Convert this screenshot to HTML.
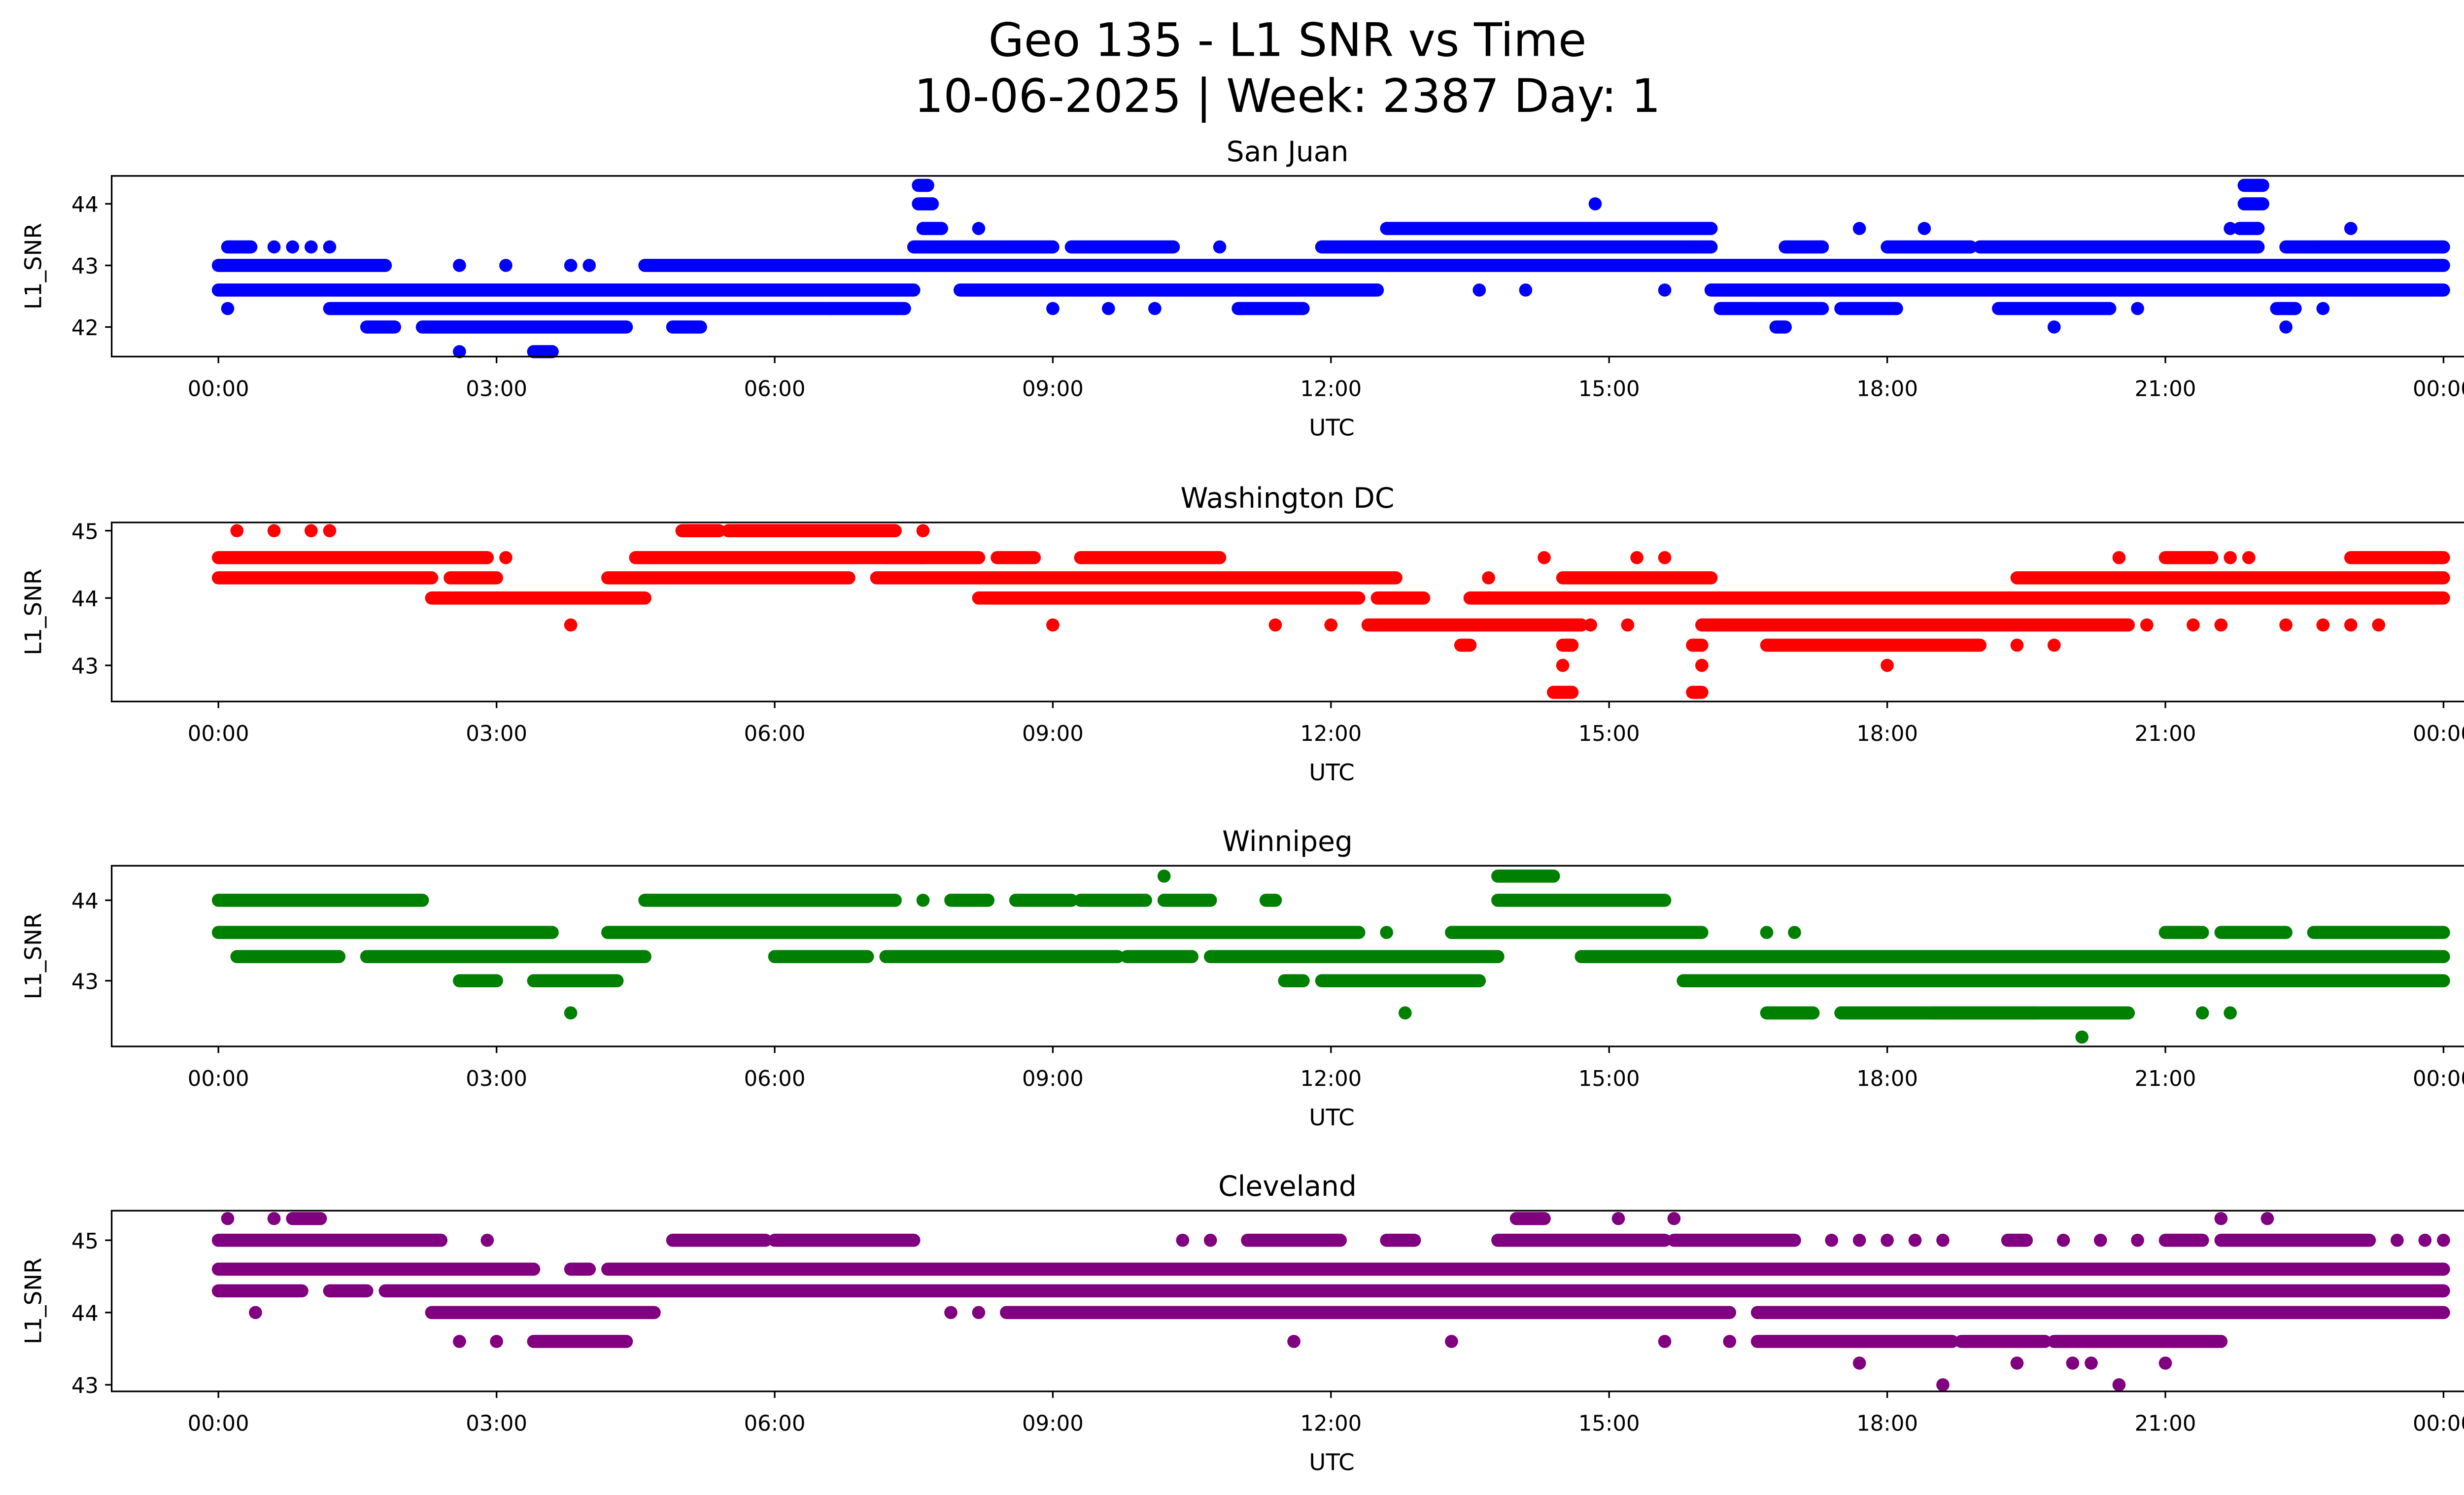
<!DOCTYPE html>
<html><head><meta charset="utf-8"><style>
html,body{margin:0;padding:0;background:#fff}
svg{display:block}
text{font-family:"DejaVu Sans","Liberation Sans",sans-serif;fill:#000}
</style></head><body>
<svg id="s" width="5225" height="3033" viewBox="0 0 1568 910" xmlns="http://www.w3.org/2000/svg">
<text x="784" y="34" font-size="28" text-anchor="middle">Geo 135 - L1 SNR vs Time</text>
<text x="784" y="68" font-size="28" text-anchor="middle">10-06-2025 | Week: 2387 Day: 1</text>
<g id="g"></g>
</svg>
<script>
var NS="http://www.w3.org/2000/svg",G=document.getElementById('g');
function el(t,a,txt){var e=document.createElementNS(NS,t);for(var k in a)e.setAttribute(k,a[k]);if(txt!=null)e.textContent=txt;G.appendChild(e);return e;}
var X0=133,X1=1488;function hx(h){return X0+(X1-X0)*h/24;}
var panels=[
{title:"San Juan",top:107,bot:217,col:"#0000ff",ref:44,refy:124,u:37.5,ticks:[44,43,42],
d:{44.3:[[7.55,7.65],[21.85,22.05]],44.0:[[7.55,7.7],[21.85,22.05],14.85],43.6:[[7.6,7.8],[12.6,16.1],8.2,17.7,18.4,21.7,[21.8,22],23],
43.3:[[0.1,0.35],0.6,0.8,1.0,1.2,[7.5,9],[9.2,10.3],10.8,[11.9,16.1],[16.9,17.3],[18,18.9],[19,22],[22.3,24]],
43.0:[[0,1.8],3.8,4.0,[4.6,24],2.6,3.1],42.6:[[0,7.5],[8,12.5],[16.1,24],13.6,14.1,15.6,16.6],
42.3:[[1.2,7.4],[16.2,17.3],[17.5,18.1],[19.2,20.4],[22.2,22.4],0.1,6.6,9,9.6,10.1,[11,11.7],20.7,22.7],
42.0:[[1.6,1.9],[2.2,4.4],[4.9,5.2],[16.8,16.9],19.8,22.3],41.6:[2.6,[3.4,3.6]]}},
{title:"Washington DC",top:318,bot:427,col:"#ff0000",ref:45,refy:323,u:41,ticks:[45,44,43],
d:{45:[0.2,0.6,1.0,1.2,[5,5.4],[5.5,7.3],7.6],44.6:[[0,2.9],3.1,[4.5,7.6],[7.2,8.2],[8.4,8.8],[9.3,10.8],14.3,15.3,15.6,20.5,[21,21.5],21.7,21.9,[23,24]],
44.3:[[0,2.3],[2.5,3.0],[4.2,6.8],[7.1,12.7],13.7,[14.5,16.1],[19.4,24]],
44.0:[[2.3,4.6],[8.2,12.3],[12.5,13.0],[13.5,24]],
43.6:[3.8,9,11.4,12,[12.4,14.7],14.8,15.2,[16.0,20.6],20.8,21.3,21.6,22.3,22.7,23,23.3],
43.3:[[13.4,13.5],[14.5,14.6],[15.9,16.0],[16.7,19.0],19.4,19.8],43:[14.5,16,18],42.6:[[14.4,14.6],[15.9,16.0]]}},
{title:"Winnipeg",top:527,bot:637,col:"#008000",ref:44,refy:548,u:49,ticks:[44,43],
d:{44.3:[10.2,[13.8,14.4]],44:[[0,2.2],[4.6,7.3],7.6,[7.9,8.3],[8.6,9.2],[9.3,10],[10.2,10.7],[11.3,11.4],[13.8,15.6]],
43.6:[[0,3.6],[4.2,12.3],12.6,[13.3,16.0],16.7,17,[21,21.4],[21.6,22.3],[22.6,24]],
43.3:[[0.2,1.3],[1.6,4.6],[6,7],[7.2,9.7],[9.8,10.5],[10.7,13.8],[14.7,24]],
43:[[2.6,3.0],[3.4,4.3],[11.5,11.7],[11.9,13.6],[15.8,24]],
42.6:[3.8,12.8,[16.7,17.2],[17.5,19.6],[18.5,20.6],21.4,21.7],42.3:[20.1]}},
{title:"Cleveland",top:737,bot:847,col:"#800080",ref:45,refy:755,u:44,ticks:[45,44,43],
d:{45.3:[0.1,0.6,[0.8,1.1],[14,14.3],15.1,15.7,21.6,22.1],
45:[[0,2.4],2.9,[4.9,5.9],[6.0,7.5],10.4,10.7,[11.1,12.1],[12.6,12.9],[13.8,15.6],[15.7,17.0],17.4,17.7,18,18.3,18.6,[19.3,19.5],19.9,20.3,20.7,[21,21.4],[21.6,23.2],23.5,23.8,24],
44.6:[[0,3.4],[3.8,4.0],[4.2,24]],44.3:[[0,0.9],[1.2,1.6],[1.8,24]],
44:[0.4,[2.3,4.7],7.9,8.2,[8.5,16.3],[16.6,24]],
43.6:[2.6,3.0,[3.4,4.4],11.6,13.3,15.6,16.3,[16.6,18.7],[18.8,19.7],[19.8,21.6]],
43.3:[17.7,19.4,20.0,20.2,21],43:[18.6,20.5]}}];
var lab=["00:00","03:00","06:00","09:00","12:00","15:00","18:00","21:00","00:00"];
panels.forEach(function(p){
 function vy(v){return p.refy+(p.ref-v)*p.u;}
 el('text',{x:784,y:p.top-9,'font-size':17,'text-anchor':'middle'},p.title);
 for(var v in p.d){var y=vy(parseFloat(v));p.d[v].forEach(function(s){
  if(typeof s=='number')el('circle',{cx:hx(s),cy:y,r:4,fill:p.col});
  else el('line',{x1:hx(s[0]),x2:hx(s[1]),y1:y,y2:y,stroke:p.col,'stroke-width':8,'stroke-linecap':'round'});});}
 el('rect',{x:68,y:p.top,width:1487,height:p.bot-p.top,fill:'none',stroke:'#000','stroke-width':1});
 for(var i=0;i<9;i++){var x=hx(i*3);el('line',{x1:x,x2:x,y1:p.bot,y2:p.bot+4,stroke:'#000'});
  el('text',{x:x,y:p.bot+24,'font-size':13,'text-anchor':'middle'},lab[i]);}
 p.ticks.forEach(function(t){var y=vy(t);el('line',{x1:64,x2:68,y1:y,y2:y,stroke:'#000'});
  el('text',{x:60,y:y+5,'font-size':13,'text-anchor':'end'},String(t));});
 el('text',{x:811,y:p.bot+48,'font-size':14,'text-anchor':'middle'},"UTC");
 var cy=(p.top+p.bot)/2;el('text',{x:25,y:cy,'font-size':14,'text-anchor':'middle',transform:'rotate(-90 25 '+cy+')'},"L1_SNR");
});
</script>
</body></html>
